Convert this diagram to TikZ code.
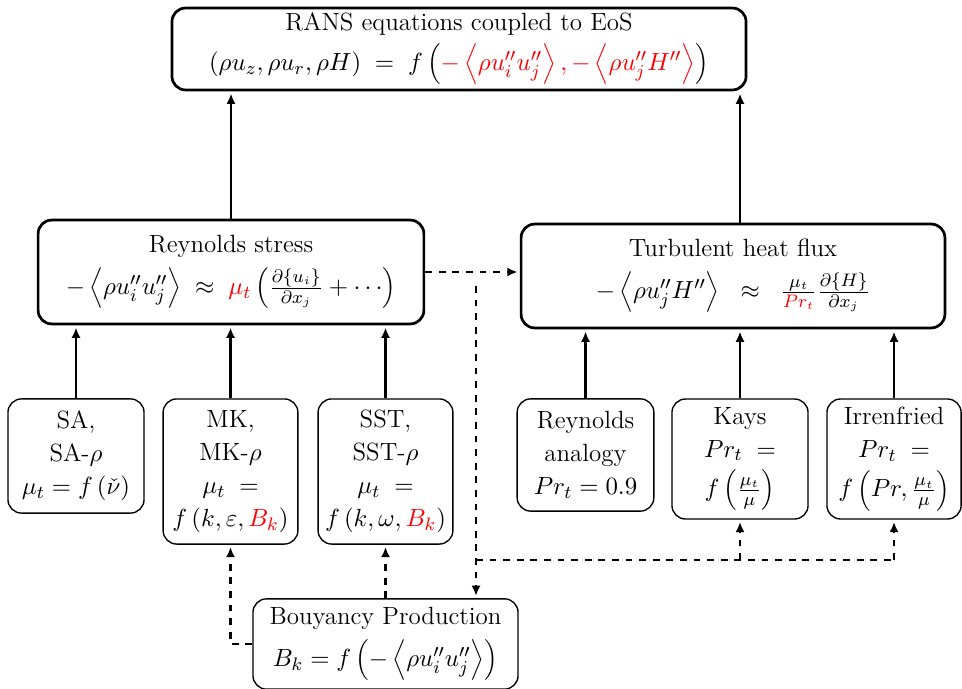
\documentclass[tikz,border=0pt]{standalone}
\usepackage{tikz}
\usetikzlibrary{arrows.meta,positioning}

\begin{document}
\begin{tikzpicture}[->,>={Latex[length=4.5pt,width=4pt]},shorten >=1pt,line width=0.9pt,x=0.0155cm,y=-0.0155cm,
                    bigbox/.style={draw,rounded corners=6pt,line width=1.2pt,align=center,inner sep=1pt,
                                   font=\fontsize{11}{14.5}\selectfont},
                    modelbox/.style={draw,rounded corners=6pt,line width=0.6pt,align=center,inner sep=1pt,
                                   font=\fontsize{11}{14.5}\selectfont},
                    link/.style={->,dashed}]
                \useasboundingbox (0,0) rectangle (962,689);
                \node [bigbox,minimum width=8.9cm,minimum height=1.27cm] (rans) at (459,49)
                      {RANS equations coupled to EoS\\[3pt]
                       $(\rho u_z,\rho u_r,\rho H)\;=\;f\left({\color{red}-\left\langle\rho u_i''u_j''\right\rangle,-\left\langle\rho u_j''H''\right\rangle}\right)$};
                \node [bigbox,minimum width=5.98cm,minimum height=1.61cm] (rs) at (231,272)
                      {Reynolds stress\\[4pt]
                       $-\left\langle\rho u_i''u_j''\right\rangle\;\approx\;{\color{red}\mu_t}\left(\frac{\partial\{u_i\}}{\partial x_j}+\cdots\right)$};
                \node [bigbox,minimum width=6.57cm,minimum height=1.61cm] (hf) at (733,276)
                      {Turbulent heat flux\\[4pt]
                       $-\left\langle\rho u_j''H''\right\rangle\;\;\approx\;\;\frac{\mu_t}{\color{red}Pr_t}\frac{\partial\{H\}}{\partial x_j}$};
                % turbulence models
                \node [modelbox,minimum width=2.11cm,minimum height=1.77cm] (sa) at (76,456)
                      {SA,\\ SA-$\rho$\\ $\mu_t=f\left(\check{\nu}\right)$};
                \node [modelbox,minimum width=2.09cm,minimum height=2.25cm] (mk) at (230.5,471.5)
                      {MK,\\ MK-$\rho$\\ $\mu_t\;=$\\ $f\left(k,\varepsilon,{\color{red}B_k}\right)$};
                \node [modelbox,minimum width=2.09cm,minimum height=2.25cm] (sst) at (385.5,471.5)
                      {SST,\\ SST-$\rho$\\ $\mu_t\;=$\\ $f\left(k,\omega,{\color{red}B_k}\right)$};
                % Prandtl models
                \node [modelbox,minimum width=2.12cm,minimum height=1.74cm] (ra) at (585.5,455)
                      {Reynolds\\ analogy\\ $Pr_t=0.9$};
                \node [modelbox,minimum width=2.11cm,minimum height=1.86cm] (kays) at (740,459)
                      {Kays\\ $Pr_t\;=$\\[3pt] $f\left(\frac{\mu_t}{\mu}\right)$};
                \node [modelbox,minimum width=2.08cm,minimum height=1.86cm] (irr) at (894,459)
                      {Irrenfried\\ $Pr_t\;=$\\[3pt] $f\left(Pr,\frac{\mu_t}{\mu}\right)$};
                \node [modelbox,minimum width=4.11cm,minimum height=1.4cm] (by) at (385.5,644)
                      {Bouyancy Production\\[4pt]
                       $B_k=f\left(-\left\langle\rho u_i''u_j''\right\rangle\right)$};
                \coordinate (tap)  at (476,286);
                \coordinate (fork) at (476,560);
                \path   (rs.north)   edge (rs.north |- rans.south)
                        (hf.north -| kays) edge (rans.south -| kays)
                        (sa.north)   edge (sa.north |- rs.south)
                        (mk.north)   edge (mk.north |- rs.south)
                        (sst.north)  edge (sst.north |- rs.south)
                        (ra.north)   edge (ra.north |- hf.south)
                        (kays.north) edge (kays.north |- hf.south)
                        (irr.north)  edge (irr.north |- hf.south);
                \draw [link] (rs.east) -- (rs.east -| hf.west);
                \draw [link] (tap) -- (tap |- by.north);
                \draw [dashed,-] (fork) -- (fork -| irr.south);
                \draw [link] (fork -| kays.south) -- (kays.south);
                \draw [link] (fork -| irr.south) -- (irr.south);
                \draw [link] (by.north -| sst) -- (sst.south);
                \draw [link] (by.west) -| (mk.south);
            \end{tikzpicture}
\end{document}
